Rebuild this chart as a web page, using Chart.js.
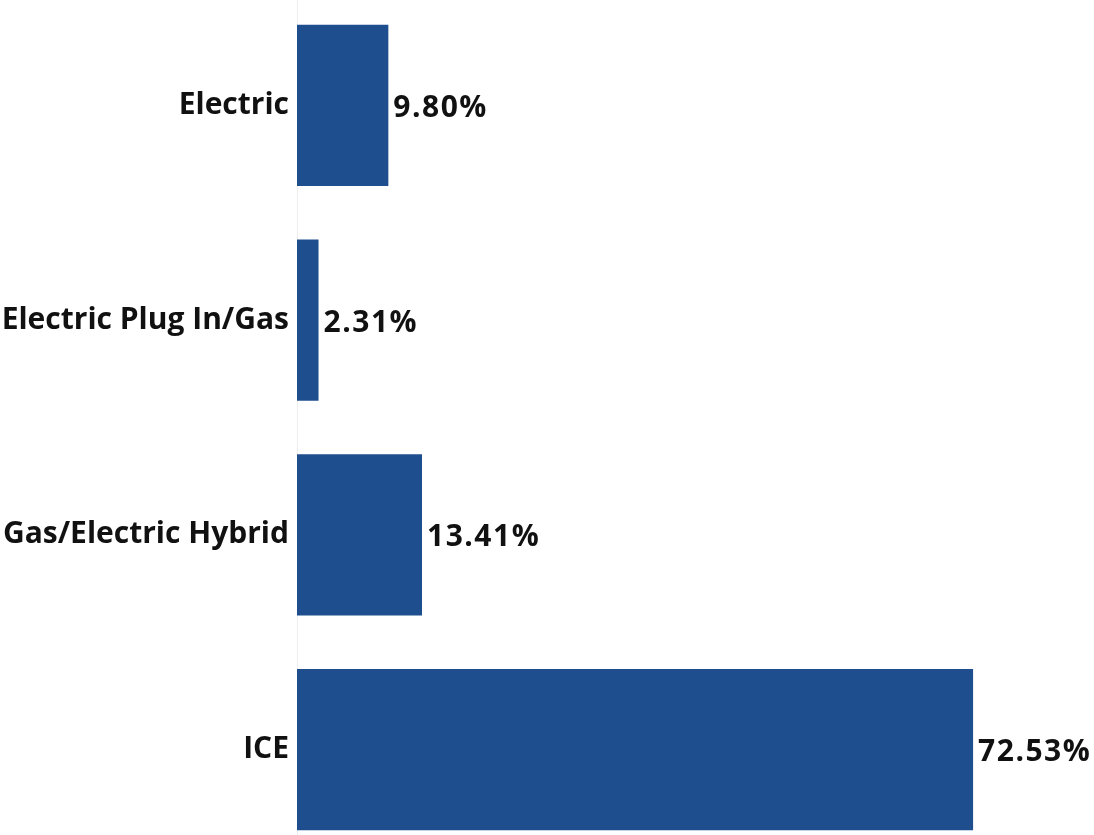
<!DOCTYPE html>
<html>
<head>
<meta charset="utf-8">
<script src="https://cdn.jsdelivr.net/npm/chart.js@4/dist/chart.umd.min.js"></script>
<style>
  html, body { margin: 0; padding: 0; background: #ffffff; overflow: hidden; width: 1094px; height: 835px; }
  #wrap { position: absolute; left: 0; top: -2px; width: 1094px; height: 859px; }
</style>
</head>
<body>
<div id="wrap"><canvas id="c"></canvas></div>
<script>
const categories = ["Electric", "Electric Plug In/Gas", "Gas/Electric Hybrid", "ICE"];
const shares = [9.80, 2.31, 13.41, 72.53];
const valueLabels = ["9.80%", "2.31%", "13.41%", "72.53%"];

const FONT = "'Open Sans', 'Noto Sans', sans-serif";

const valueLabelPlugin = {
  id: 'valueLabels',
  afterDatasetsDraw(chart) {
    const ctx = chart.ctx;
    const meta = chart.getDatasetMeta(0);
    ctx.save();
    ctx.font = "bold 30px " + FONT;
    if ('letterSpacing' in ctx) ctx.letterSpacing = '1.5px';
    ctx.fillStyle = '#111111';
    ctx.textAlign = 'left';
    ctx.textBaseline = 'middle';
    meta.data.forEach((bar, i) => {
      ctx.fillText(valueLabels[i], bar.x + 5, bar.y + 3);
    });
    ctx.restore();
  }
};

new Chart(document.getElementById('c'), {
  type: 'bar',
  data: {
    labels: categories,
    datasets: [{
      data: shares,
      backgroundColor: '#1f4e8e',
      borderWidth: 0,
      categoryPercentage: 1.0,
      barPercentage: 0.75
    }]
  },
  options: {
    indexAxis: 'y',
    responsive: true,
    maintainAspectRatio: false,
    animation: false,
    layout: { padding: 0 },
    plugins: { legend: { display: false }, tooltip: { enabled: false } },
    scales: {
      x: {
        display: false,
        min: 0,
        max: 85.5
      },
      y: {
        offset: true,
        grid: { display: false, drawTicks: false },
        border: { display: true, color: '#eeeeee', width: 1 },
        ticks: {
          color: '#111111',
          padding: 8,
          font: { family: FONT, size: 30, weight: 'bold' }
        },
        afterFit(scale) {
          scale.width = 297;
          scale.paddingTop = 0;
          scale.paddingBottom = 0;
        }
      }
    }
  },
  plugins: [valueLabelPlugin]
});
</script>
</body>
</html>
